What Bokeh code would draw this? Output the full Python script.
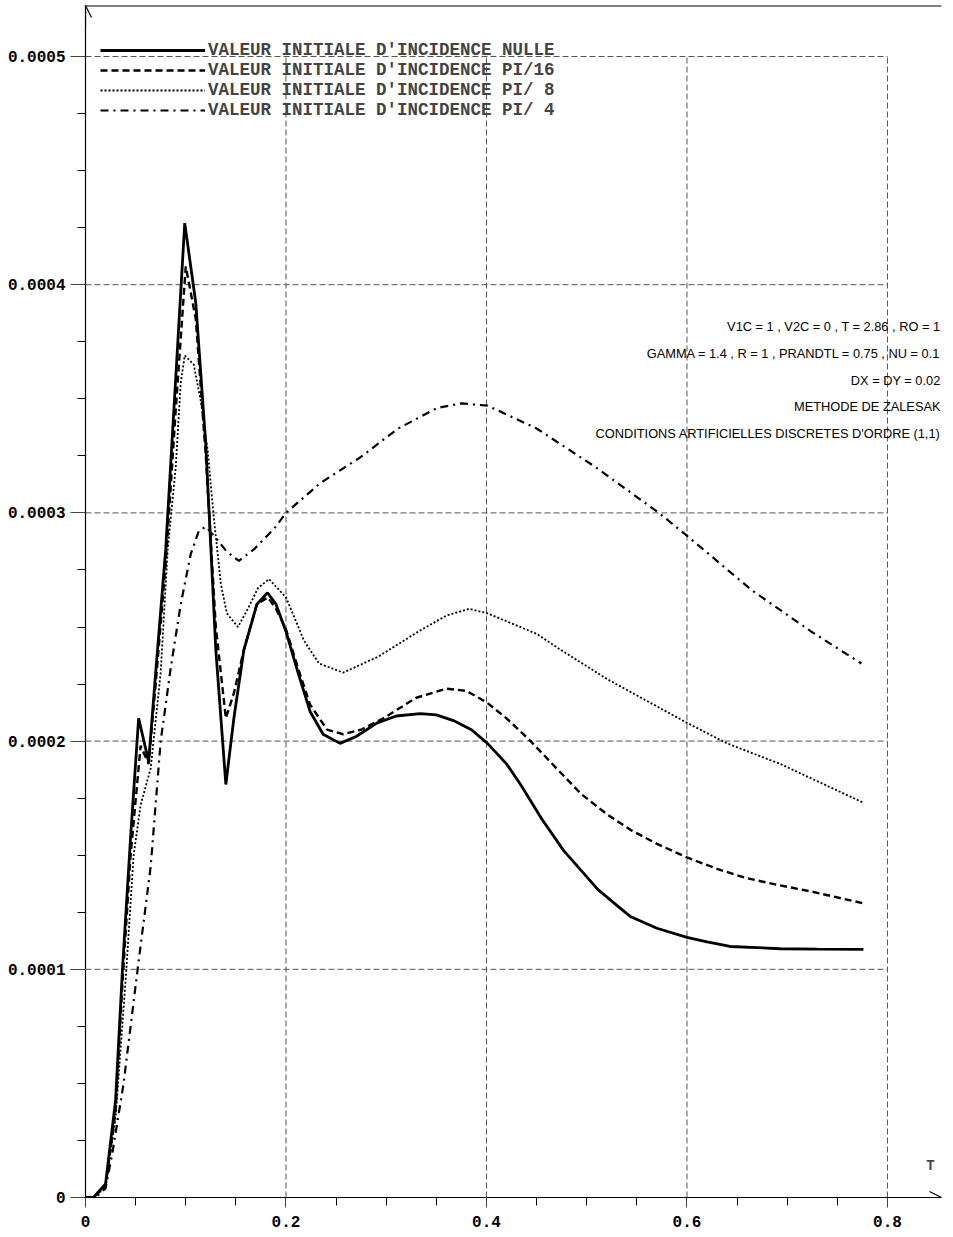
import numpy as np
from bokeh.plotting import figure
from bokeh.models import (Range1d, FixedTicker, Legend, LegendItem, Label,
                          Arrow, OpenHead, Span)
from bokeh.embed import file_html
from bokeh.resources import INLINE

# ---------------- data (values in units of 1e-4) ----------------
SCALE = 1e-4

t_nulle = [0, 0.008, 0.02, 0.03, 0.037, 0.045, 0.053, 0.063, 0.07, 0.08,
           0.09, 0.099, 0.11, 0.12, 0.13, 0.14, 0.148, 0.158, 0.171, 0.1815,
           0.19, 0.2, 0.212, 0.224, 0.237, 0.254, 0.27, 0.291, 0.31, 0.334,
           0.35, 0.367, 0.385, 0.401, 0.42, 0.434, 0.455, 0.477, 0.495, 0.511,
           0.53, 0.544, 0.57, 0.6, 0.62, 0.643, 0.67, 0.693, 0.73, 0.776]
v_nulle = [0, 0, 0.06, 0.425, 1.01, 1.58, 2.10, 1.91, 2.30, 2.84,
           3.59, 4.27, 3.92, 3.30, 2.40, 1.81, 2.10, 2.40, 2.60, 2.65,
           2.60, 2.48, 2.30, 2.13, 2.03, 1.99, 2.02, 2.08, 2.11, 2.12,
           2.115, 2.09, 2.05, 1.99, 1.90, 1.81, 1.66, 1.52, 1.43, 1.35,
           1.28, 1.23, 1.18, 1.14, 1.12, 1.10, 1.095, 1.09, 1.088, 1.087]

t_pi16 = [0, 0.008, 0.02, 0.03, 0.037, 0.045, 0.055, 0.063, 0.07, 0.08,
          0.09, 0.1, 0.11, 0.12, 0.13, 0.14, 0.148, 0.158, 0.171, 0.182,
          0.19, 0.2, 0.212, 0.224, 0.241, 0.257, 0.275, 0.297, 0.33, 0.36,
          0.38, 0.4, 0.42, 0.444, 0.47, 0.494, 0.52, 0.544, 0.57, 0.6,
          0.63, 0.659, 0.69, 0.725, 0.775]
v_pi16 = [0, 0, 0.05, 0.38, 0.95, 1.5, 1.98, 1.90, 2.25, 2.78,
          3.45, 4.08, 3.85, 3.25, 2.50, 2.10, 2.21, 2.40, 2.60, 2.63,
          2.58, 2.49, 2.32, 2.16, 2.05, 2.03, 2.05, 2.10, 2.19, 2.23,
          2.22, 2.17, 2.10, 2.0, 1.88, 1.77, 1.68, 1.61, 1.55, 1.49,
          1.44, 1.40, 1.37, 1.34, 1.29]

t_pi8 = [0, 0.008, 0.02, 0.03, 0.04, 0.048, 0.055, 0.065, 0.075, 0.082,
         0.09, 0.095, 0.099, 0.108, 0.115, 0.122, 0.128, 0.135, 0.141, 0.152,
         0.162, 0.172, 0.183, 0.2, 0.218, 0.233, 0.257, 0.292, 0.332, 0.36,
         0.383, 0.401, 0.45, 0.474, 0.521, 0.6, 0.64, 0.693, 0.776]
v_pi8 = [0, 0, 0.05, 0.35, 0.95, 1.5, 1.72, 1.88, 2.3, 2.84,
         3.2, 3.57, 3.69, 3.65, 3.49, 3.27, 2.98, 2.69, 2.56, 2.50,
         2.58, 2.67, 2.71, 2.63, 2.44, 2.34, 2.30, 2.37, 2.48, 2.55,
         2.58, 2.56, 2.47, 2.40, 2.27, 2.08, 1.99, 1.90, 1.73]

t_pi4 = [0, 0.01, 0.02, 0.027, 0.038, 0.052, 0.065, 0.075, 0.085, 0.095,
         0.105, 0.113, 0.12, 0.13, 0.141, 0.153, 0.168, 0.188, 0.2, 0.234,
         0.273, 0.312, 0.351, 0.375, 0.401, 0.45, 0.509, 0.572, 0.6, 0.665,
         0.724, 0.774]
v_pi4 = [0, 0, 0.04, 0.2, 0.5, 1.0, 1.45, 2.0, 2.32, 2.6,
         2.82, 2.92, 2.94, 2.89, 2.83, 2.79, 2.84, 2.93, 3.0, 3.13,
         3.24, 3.37, 3.46, 3.48, 3.47, 3.37, 3.20, 3.0, 2.90, 2.66,
         2.48, 2.34]

series_labels = ["VALEUR INITIALE D'INCIDENCE NULLE",
                 "VALEUR INITIALE D'INCIDENCE PI/16",
                 "VALEUR INITIALE D'INCIDENCE PI/ 8",
                 "VALEUR INITIALE D'INCIDENCE PI/ 4"]

x_ticks = [0, 0.2, 0.4, 0.6, 0.8]
x_tick_labels = ["0", "0.2", "0.4", "0.6", "0.8"]
x_minor = [0.05, 0.1, 0.15, 0.25, 0.3, 0.35, 0.45, 0.5, 0.55,
           0.65, 0.7, 0.75]
y_ticks = [0, 0.0001, 0.0002, 0.0003, 0.0004, 0.0005]
y_tick_labels = ["0", "0.0001", "0.0002", "0.0003", "0.0004", "0.0005"]
y_minor = [0.000025, 0.00005, 0.000075, 0.000125, 0.00015, 0.000175,
           0.000225, 0.00025, 0.000275, 0.000325, 0.00035, 0.000375,
           0.000425, 0.00045, 0.000475]

info_lines = ["V1C = 1 , V2C = 0 , T = 2.86 , RO = 1",
              "GAMMA = 1.4 , R = 1 , PRANDTL = 0.75 , NU = 0.1",
              "DX = DY = 0.02",
              "METHODE DE ZALESAK",
              "CONDITIONS ARTIFICIELLES DISCRETES D'ORDRE (1,1)"]

# ---------------- figure ----------------
X_END = 0.8539
Y_END = 5.2235e-4
MONO = "Liberation Mono"

p = figure(width=953, height=1237,
           x_range=Range1d(0, X_END), y_range=Range1d(0, Y_END),
           output_backend="svg", toolbar_location=None,
           min_border_left=85, min_border_right=12,
           min_border_top=5, min_border_bottom=40)
p.xgrid.visible = False
p.ygrid.visible = False
p.outline_line_color = None
p.background_fill_color = "white"
p.border_fill_color = "white"

# axes
p.xaxis.ticker = FixedTicker(ticks=x_ticks, minor_ticks=x_minor)
p.xaxis.major_label_overrides = dict(zip(x_ticks, x_tick_labels))
p.yaxis.ticker = FixedTicker(ticks=y_ticks, minor_ticks=y_minor)
p.yaxis.major_label_overrides = dict(zip(y_ticks, y_tick_labels))
for ax in (p.xaxis[0], p.yaxis[0]):
    ax.axis_line_color = "black"
    ax.axis_line_width = 1.2
    ax.major_tick_in = 0
    ax.minor_tick_in = 0
    ax.minor_tick_out = 8
    ax.major_tick_line_color = "#444444"
    ax.major_tick_line_width = 1
    ax.minor_tick_line_color = "black"
    ax.minor_tick_line_width = 1
    ax.major_label_text_font = MONO
    ax.major_label_text_font_style = "bold"
    ax.major_label_text_font_size = "16px"
    ax.major_label_text_color = "black"
p.yaxis[0].major_tick_out = 15
p.yaxis[0].major_label_standoff = 5
p.xaxis[0].major_tick_out = 10
p.xaxis[0].major_label_standoff = 8

# grid lines (dashed, limited to the tick extent)
gx = x_ticks[1:]
gy = y_ticks[1:]
p.segment(x0=[0] * len(gy), y0=gy, x1=[x_ticks[-1]] * len(gy), y1=gy,
          line_color="#555555", line_width=1, line_dash="6 3")
p.segment(x0=gx, y0=[0] * len(gx), x1=gx, y1=[y_ticks[-1]] * len(gx),
          line_color="#555555", line_width=1, line_dash="6 3")

# curves
def sc(v):
    return list(np.array(v) * SCALE)

r1 = p.line(t_nulle, sc(v_nulle), line_color="black", line_width=2.8)
r2 = p.line(t_pi16, sc(v_pi16), line_color="black", line_width=2.4,
            line_dash="7 4")
r3 = p.line(t_pi8, sc(v_pi8), line_color="black", line_width=1.8,
            line_dash="2 2")
r4 = p.line(t_pi4, sc(v_pi4), line_color="black", line_width=2.2,
            line_dash="8 5 2 5")

legend = Legend(items=[LegendItem(label=lab, renderers=[r])
                       for lab, r in zip(series_labels, [r1, r2, r3, r4])],
                location=(15, 1077), orientation="vertical",
                glyph_width=105, glyph_height=20, label_height=20,
                spacing=0, padding=0, margin=0, label_standoff=3,
                label_text_font=MONO, label_text_font_style="bold",
                label_text_font_size="17.5px",
                background_fill_alpha=0, border_line_alpha=0)
p.add_layout(legend)

# axis arrows
p.add_layout(Arrow(end=OpenHead(size=12, line_width=1.2, line_color="black"),
                   x_start=X_END - 0.02, y_start=0, x_end=X_END, y_end=0,
                   line_color="black", line_width=1.2))
p.add_layout(Arrow(end=OpenHead(size=12, line_width=1.2, line_color="black"),
                   x_start=0, y_start=Y_END - 0.00001, x_end=0, y_end=Y_END,
                   line_color="black", line_width=1.2))

# top border line
p.add_layout(Span(location=Y_END, dimension="width", line_color="black",
                  line_width=2))

# axis name
p.add_layout(Label(x=0.843, y=0.000014, text="T", text_font=MONO,
                   text_font_style="bold", text_font_size="14px",
                   text_align="center", text_baseline="middle"))

# info block
info_y = [3.817e-4, 3.699e-4, 3.580e-4, 3.466e-4, 3.348e-4]
for txt, yy in zip(info_lines, info_y):
    p.add_layout(Label(x=X_END - 0.001, y=yy, text=txt,
                       text_font="Liberation Sans",
                       text_font_size="12.8px", text_align="right",
                       text_baseline="middle", text_color="black"))

open("out.html", "w").write(file_html(p, INLINE))
